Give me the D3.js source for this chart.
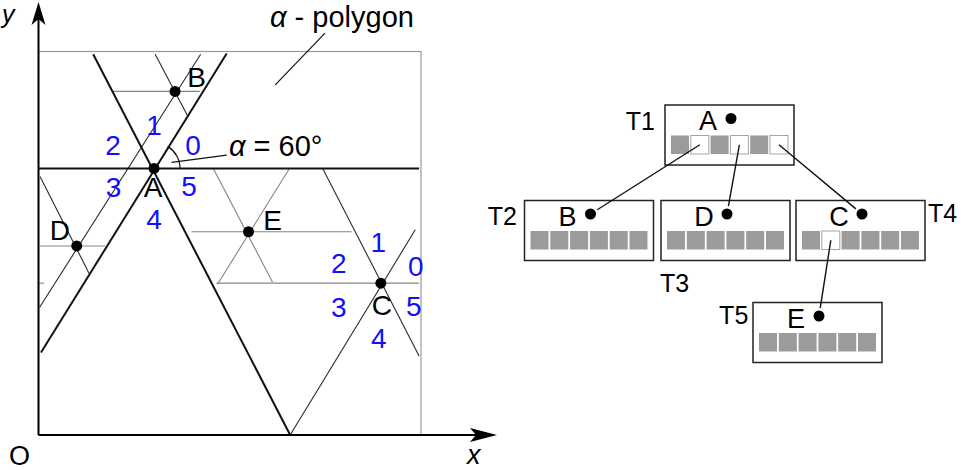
<!DOCTYPE html>
<html>
<head>
<meta charset="utf-8">
<script src="https://cdn.jsdelivr.net/npm/d3@7/dist/d3.min.js"></script>
<style>
  html, body { margin: 0; padding: 0; background: #fff; }
  svg { display: block; }
  text { font-family: "Liberation Sans", Arial, Helvetica, sans-serif; }
</style>
</head>
<body>
<svg id="chart" width="961" height="470"></svg>
<script>
// ---------------- DATA (diagram coordinates, frame = 0..10 x 0..10) ----------------
const pointNames = ["A", "B", "C", "D", "E"];
const pointX     = [3.02, 3.57, 8.95, 1.00, 5.49];
const pointY     = [6.95, 8.96, 3.96, 4.93, 5.30];

// thick boundary lines of the alpha-polygon through A  [x1, y1, x2, y2]
const thickSegments = [
  [0.00, 6.95, 9.95, 6.95],
  [4.92, 9.95, 0.065, 2.15],
  [1.43, 9.93, 6.58, 0.00]
];
// thin dark lines
const thinSegments = [
  [3.05, 9.93, 3.89, 8.34],
  [4.24, 9.93, 0.03, 3.33],
  [0.04, 6.74, 1.32, 4.22],
  [7.43, 6.95, 9.95, 2.06],
  [6.58, 0.00, 9.85, 5.35]
];
// thin light-grey lines
const faintSegments = [
  [1.95, 8.96, 4.22, 8.96],
  [0.04, 4.93, 1.74, 4.93],
  [4.57, 6.95, 6.12, 3.98],
  [6.56, 6.95, 4.68, 3.93],
  [4.00, 5.30, 8.19, 5.30],
  [4.65, 3.96, 9.95, 3.96],
  [0.00, 3.96, 0.15, 3.96]
];
const sectorLabels  = ["0", "1", "2", "3", "4", "5"];
const sectorCenters = ["A", "C"];
const alphaDegrees  = 60;

// annotation leader lines
const polygonLeader = [7.49, 10.48, 6.19, 9.13];
const alphaLeader   = [3.48, 7.11, 4.92, 7.30];

// tree
const treeNodes      = ["T1", "T2", "T3", "T4", "T5"];
const treeNodePoint  = ["A", "B", "D", "C", "E"];
const treeCells      = [       // 1 = grey (leaf), 0 = white (child pointer)
  [1, 0, 1, 0, 1, 0],
  [1, 1, 1, 1, 1, 1],
  [1, 1, 1, 1, 1, 1],
  [1, 0, 1, 1, 1, 1],
  [1, 1, 1, 1, 1, 1]
];
const treeParent     = [null, "T1", "T1", "T1", "T4"];
const treeParentCell = [null, 1, 3, 5, 1];

// ---------------- LAYOUT / STYLE ----------------
const svg = d3.select("#chart");
const FONT = 28;
const BLUE = "#1010ff";

const x = d3.scaleLinear().domain([0, 10]).range([38.5, 421]);
const y = d3.scaleLinear().domain([0, 10]).range([435, 51.5]);

const sectorOffsets = {
  A: [[39, -13], [0, -33], [-41, -13], [-40.5, 29], [0, 60.5], [35, 28]],
  C: [[35, -7], [-2.5, -31], [-42, -10], [-42, 34], [-2, 64.5], [33, 33]]
};
const nameOffsets = { A: [-1, 29], B: [21.5, -4], C: [1, 32], D: [-17, -6], E: [24, -2] };

const treeLayout = {
  T1: { x: 665,   y: 105,   anchor: "end",   lx: -10,  ly: 25 },
  T2: { x: 524.5, y: 200.5, anchor: "end",   lx: -7.5, ly: 24.5 },
  T3: { x: 661,   y: 200.5, anchor: "start", lx: -1,   ly: 91 },
  T4: { x: 796,   y: 200.5, anchor: "start", lx: 132,  ly: 21 },
  T5: { x: 753,   y: 302.5, anchor: "end",   lx: -4.7, ly: 21 }
};
const BOX_W = 129, BOX_H = 60;

// ---------------- LEFT DIAGRAM ----------------
const left = svg.append("g");

// grey frame (alpha-polygon bounding box)
left.append("rect")
  .attr("x", x(0)).attr("y", y(10))
  .attr("width", x(10) - x(0)).attr("height", y(0) - y(10))
  .attr("fill", "none").attr("stroke", "#9a9a9a").attr("stroke-width", 1.2);

function drawSegs(data, stroke, width) {
  left.append("g").selectAll("line").data(data).join("line")
    .attr("x1", d => x(d[0])).attr("y1", d => y(d[1]))
    .attr("x2", d => x(d[2])).attr("y2", d => y(d[3]))
    .attr("stroke", stroke).attr("stroke-width", width);
}
drawSegs(faintSegments, "#858585", 1.1);
drawSegs(thinSegments, "#2a2a2a", 1.1);
drawSegs(thickSegments, "#111", 2);

// axes with arrows
const ox = x(0), oy = y(0);
left.append("line").attr("x1", ox).attr("y1", oy).attr("x2", ox).attr("y2", 12)
  .attr("stroke", "#000").attr("stroke-width", 2);
left.append("line").attr("x1", ox).attr("y1", oy).attr("x2", 488).attr("y2", oy)
  .attr("stroke", "#000").attr("stroke-width", 2);
left.append("path")
  .attr("d", `M${ox},2 L${ox - 7},25 L${ox},19 L${ox + 7},25 Z`).attr("fill", "#000");
left.append("path")
  .attr("d", `M497,${oy} L470,${oy - 7} L476,${oy} L470,${oy + 7} Z`).attr("fill", "#000");

left.append("text").attr("x", 2).attr("y", 23).attr("font-size", 25)
  .attr("font-style", "italic").text("y");
left.append("text").attr("x", 467).attr("y", 464).attr("font-size", 27)
  .attr("font-style", "italic").text("x");
left.append("text").attr("x", 9).attr("y", 465).attr("font-size", 27).text("O");

// leader lines
[polygonLeader, alphaLeader].forEach(d => {
  left.append("line")
    .attr("x1", x(d[0])).attr("y1", y(d[1])).attr("x2", x(d[2])).attr("y2", y(d[3]))
    .attr("stroke", "#111").attr("stroke-width", 1.2);
});

// angle arc at A between the horizontal and the rising boundary line
const iA = pointNames.indexOf("A");
const Ax = x(pointX[iA]), Ay = y(pointY[iA]);
const rising = thickSegments[1];
const ang = Math.atan2(y(rising[3]) - y(rising[1]), x(rising[0]) - x(rising[2]));
const arcPath = d3.path();
arcPath.arc(Ax, Ay, 26, -ang, 0.02, false);
left.append("path").attr("d", arcPath.toString())
  .attr("fill", "none").attr("stroke", "#111").attr("stroke-width", 1.2);

// texts
const tPoly = left.append("text").attr("x", 270).attr("y", 27).attr("font-size", 29);
tPoly.append("tspan").attr("font-style", "italic").text("α");
tPoly.append("tspan").text(" - polygon");

const tAlpha = left.append("text").attr("x", 229).attr("y", 156).attr("font-size", 29);
tAlpha.append("tspan").attr("font-style", "italic").text("α");
tAlpha.append("tspan").text(" = " + alphaDegrees + "°");

// sector numbers
sectorCenters.forEach(c => {
  const i = pointNames.indexOf(c);
  const cx = x(pointX[i]), cy = y(pointY[i]);
  left.append("g").selectAll("text").data(sectorLabels).join("text")
    .attr("x", (d, k) => cx + sectorOffsets[c][k][0])
    .attr("y", (d, k) => cy + sectorOffsets[c][k][1])
    .attr("text-anchor", "middle").attr("font-size", FONT).attr("fill", BLUE)
    .text(d => d);
});

// points and names
left.append("g").selectAll("circle").data(pointNames).join("circle")
  .attr("cx", (d, i) => x(pointX[i])).attr("cy", (d, i) => y(pointY[i]))
  .attr("r", 5.5).attr("fill", "#000");
left.append("g").selectAll("text").data(pointNames).join("text")
  .attr("x", (d, i) => x(pointX[i]) + nameOffsets[d][0])
  .attr("y", (d, i) => y(pointY[i]) + nameOffsets[d][1])
  .attr("text-anchor", "middle").attr("font-size", FONT).attr("fill", "#000")
  .text(d => d);

// ---------------- RIGHT: TREE ----------------
const tree = svg.append("g");
const cellScale = d3.scaleBand().domain(d3.range(6)).range([6, 123]).paddingInner(0.09);
const CELL_Y = 30.5, CELL_H = 18.5;
const dotPos = n => ({ x: treeLayout[n].x + 66, y: treeLayout[n].y + 13.5 });

const nodeG = tree.selectAll("g.node").data(treeNodes).join("g").attr("class", "node");

nodeG.append("rect")
  .attr("x", d => treeLayout[d].x).attr("y", d => treeLayout[d].y)
  .attr("width", BOX_W).attr("height", BOX_H)
  .attr("fill", "#fff").attr("stroke", "#222").attr("stroke-width", 1.5);

nodeG.each(function(d, i) {
  const g = d3.select(this), L = treeLayout[d];
  g.selectAll("rect.cell").data(treeCells[i]).join("rect").attr("class", "cell")
    .attr("x", (c, k) => L.x + cellScale(k)).attr("y", L.y + CELL_Y)
    .attr("width", cellScale.bandwidth()).attr("height", CELL_H)
    .attr("fill", c => c ? "#9b9b9b" : "#fff")
    .attr("stroke", c => c ? "none" : "#a5a5a5").attr("stroke-width", 1);
  g.append("text").attr("x", L.x + 43).attr("y", L.y + 25)
    .attr("text-anchor", "middle").attr("font-size", 27).text(treeNodePoint[i]);
  const dp = dotPos(d);
  g.append("circle").attr("cx", dp.x).attr("cy", dp.y).attr("r", 5.5).attr("fill", "#000");
  g.append("text").attr("x", L.x + L.lx).attr("y", L.y + L.ly)
    .attr("text-anchor", L.anchor).attr("font-size", 25).text(d);
});

// connectors from parent pointer cell to child point
treeNodes.forEach((n, i) => {
  const p = treeParent[i];
  if (!p) return;
  const P = treeLayout[p];
  const sx = P.x + cellScale(treeParentCell[i]) + cellScale.bandwidth() / 2;
  const sy = P.y + CELL_Y + CELL_H / 2;
  const dp = dotPos(n);
  const dx = dp.x - sx, dy = dp.y - sy, len = Math.hypot(dx, dy);
  const cut = 8;
  tree.append("line")
    .attr("x1", sx).attr("y1", sy)
    .attr("x2", dp.x - dx / len * cut).attr("y2", dp.y - dy / len * cut)
    .attr("stroke", "#111").attr("stroke-width", 1.4);
});
</script>
</body>
</html>
